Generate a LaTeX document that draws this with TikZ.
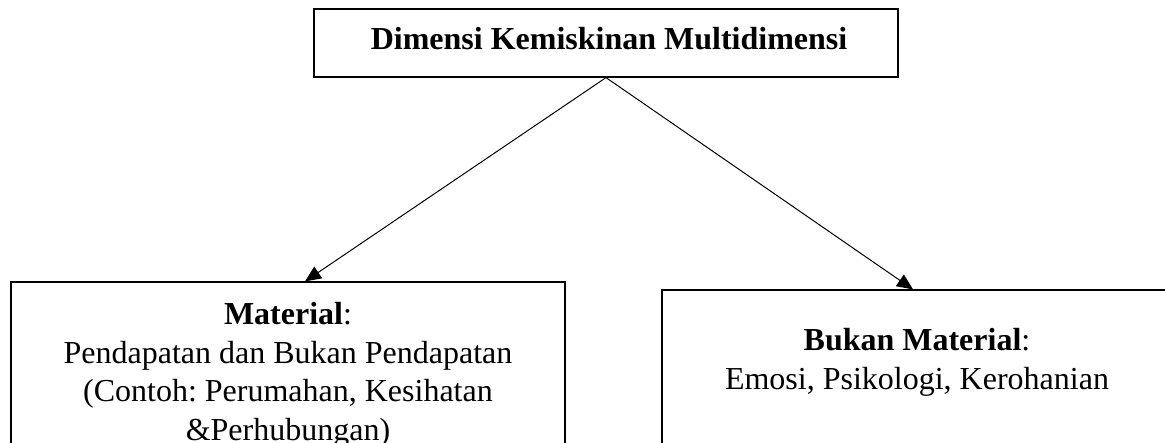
\documentclass[tikz,border=0pt]{standalone}
\usepackage{fontspec}
\setmainfont{Liberation Serif}
\usetikzlibrary{arrows.meta}
\frenchspacing

\def\fsize{24}
\def\fskip{29}

\begin{document}
\begin{tikzpicture}[x=0.75pt,y=-0.75pt,
  kotak/.style={draw,line width=0.9pt,inner sep=0pt},
  teks/.style={inner sep=0pt,align=center,font=\fontsize{\fsize}{\fskip}\selectfont},
  panah/.style={-{Triangle[length=12pt,width=10.5pt]},line width=0.75pt}]
  \useasboundingbox (0,0) rectangle (1165,443);

  % kotak
  \node[kotak,minimum width=438pt,minimum height=51pt] (dimensi) at (606,43) {};
  \node[kotak,minimum width=415.5pt,minimum height=150pt] (material) at (288,382) {};
  \node[kotak,minimum width=382.5pt,minimum height=150pt] (bukan) at (917,390) {};

  % teks
  \node[teks,anchor=base] (dimensiteks) at (609,49) {\textbf{Dimensi Kemiskinan Multidimensi}};
  \node[teks,anchor=north] (materialteks) at (288,302) {\rule{0pt}{16.5pt}\textbf{Material}:\\Pendapatan dan Bukan Pendapatan\\(Contoh: Perumahan, Kesihatan\\\&Perhubungan)};
  \node[teks,anchor=north] (bukanteks) at (917,328.5) {\rule{0pt}{16.5pt}\textbf{Bukan Material}:\\Emosi, Psikologi, Kerohanian};

  % anak panah
  \draw[panah] (dimensi.south) -- ([xshift=12.75pt]material.north);
  \draw[panah] (dimensi.south) -- ([xshift=-3pt]bukan.north);
\end{tikzpicture}
\end{document}
